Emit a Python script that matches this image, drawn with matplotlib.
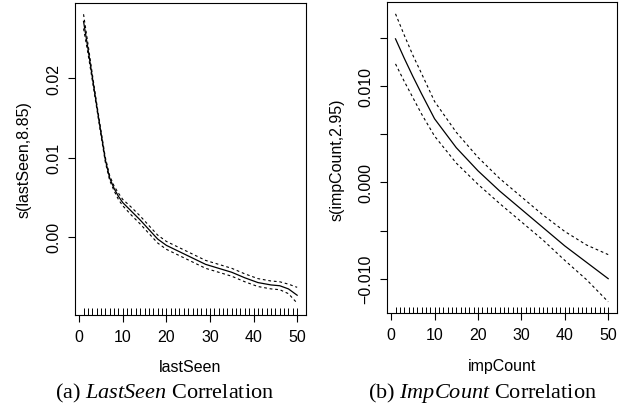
import matplotlib.pyplot as plt

# lastSeen smooth term (fit and confidence band)
last_x = [1, 2, 3, 4, 5, 6, 7, 8, 9, 10, 12, 14, 16, 18, 20, 23, 26, 29, 32, 35, 38, 41, 44, 46, 48, 50]
last_fit = [0.0272, 0.0238, 0.0202, 0.0166, 0.0131, 0.0097, 0.0074, 0.0061, 0.0051, 0.0043,
            0.0032, 0.0021, 0.0009, -0.0003, -0.0011, -0.0019, -0.0027, -0.0035, -0.0040,
            -0.0045, -0.0052, -0.0058, -0.0061, -0.0062, -0.0066, -0.0074]
last_upper = [0.0281, 0.0244, 0.0206, 0.0169, 0.0134, 0.0100, 0.0077, 0.0064, 0.0055, 0.0047,
              0.0037, 0.0026, 0.0014, 0.0002, -0.0006, -0.0014, -0.0022, -0.0030, -0.0035,
              -0.0040, -0.0047, -0.0053, -0.0056, -0.0057, -0.0060, -0.0064]
last_lower = [0.0263, 0.0232, 0.0198, 0.0163, 0.0128, 0.0094, 0.0071, 0.0058, 0.0047, 0.0039,
              0.0027, 0.0016, 0.0004, -0.0008, -0.0016, -0.0024, -0.0032, -0.0040, -0.0045,
              -0.0050, -0.0057, -0.0063, -0.0066, -0.0067, -0.0072, -0.0084]

# impCount smooth term
imp_x = [1, 3, 5, 7, 10, 15, 20, 25, 30, 35, 40, 45, 50]
imp_fit = [0.0149, 0.0129, 0.0110, 0.0092, 0.0066, 0.0036, 0.0012, -0.0009, -0.0028,
           -0.0047, -0.0066, -0.0083, -0.0100]
imp_upper = [0.0175, 0.0153, 0.0132, 0.0113, 0.0084, 0.0052, 0.0026, 0.0004, -0.0015,
             -0.0034, -0.0051, -0.0065, -0.0075]
imp_lower = [0.0123, 0.0105, 0.0088, 0.0071, 0.0048, 0.0020, -0.0002, -0.0022, -0.0041,
             -0.0060, -0.0081, -0.0101, -0.0124]

rug = list(range(1, 51))
x_ticks = [0, 10, 20, 30, 40, 50]

plt.rcParams['font.family'] = ['Liberation Sans', 'DejaVu Sans']
plt.rcParams['mathtext.fontset'] = 'custom'
plt.rcParams['mathtext.it'] = 'Liberation Serif:italic'
plt.rcParams['mathtext.rm'] = 'Liberation Serif'

W, H = 626, 414
fig = plt.figure(figsize=(W / 100, H / 100), dpi=100)


def add_ax(l, t, r, b):
    return fig.add_axes([l / W, 1 - b / H, (r - l) / W, (b - t) / H])


def draw_panel(ax, x, fit, upper, lower, yticks, ylabels):
    ax.plot(x, fit, color='black', lw=0.9)
    ax.plot(x, upper, color='black', lw=0.8, ls=(0, (2.5, 2.5)))
    ax.plot(x, lower, color='black', lw=0.8, ls=(0, (2.5, 2.5)))
    ax.vlines(rug, 0, 0.021, transform=ax.get_xaxis_transform(), color='black', lw=0.7)
    # R style 4% padding around data range
    lo, hi = min(lower), max(upper)
    pad = 0.04 * (hi - lo)
    ax.set_ylim(lo - pad, hi + pad)
    ax.set_xlim(1 - 0.04 * 49, 50 + 0.04 * 49)
    ax.set_xticks(x_ticks)
    ax.set_yticks(yticks)
    ax.set_yticklabels(ylabels, rotation=90, va='center')
    ax.tick_params(direction='out', length=5, width=0.8, labelsize=11.5, pad=5)
    for s in ax.spines.values():
        s.set_linewidth(0.8)


ax1 = add_ax(75, 3.7, 305.7, 315.7)
draw_panel(ax1, last_x, last_fit, last_upper, last_lower,
           [0.00, 0.01, 0.02], ['0.00', '0.01', '0.02'])

ax2 = add_ax(387, 3.3, 616.7, 314.3)
draw_panel(ax2, imp_x, imp_fit, imp_upper, imp_lower,
           [-0.010, -0.005, 0.000, 0.005, 0.010, 0.015],
           ['\u22120.010', '', '0.000', '', '0.010', ''])

fig.text(24 / W, 1 - 160 / H, 's(lastSeen,8.85)', rotation=90, ha='center', va='center', fontsize=11.5)
fig.text(337 / W, 1 - 160 / H, 's(impCount,2.95)', rotation=90, ha='center', va='center', fontsize=11.5)
fig.text(190 / W, 1 - 367 / H, 'lastSeen', ha='center', va='center', fontsize=11.5)
fig.text(502 / W, 1 - 367 / H, 'impCount', ha='center', va='center', fontsize=11.5)

fig.text(165 / W, 1 - 393 / H, r'(a) $LastSeen$ Correlation', ha='center', va='center',
         fontsize=16, family='Liberation Serif')
fig.text(483 / W, 1 - 393 / H, r'(b) $ImpCount$ Correlation', ha='center', va='center',
         fontsize=16, family='Liberation Serif')

fig.savefig('out.png', dpi=100)
